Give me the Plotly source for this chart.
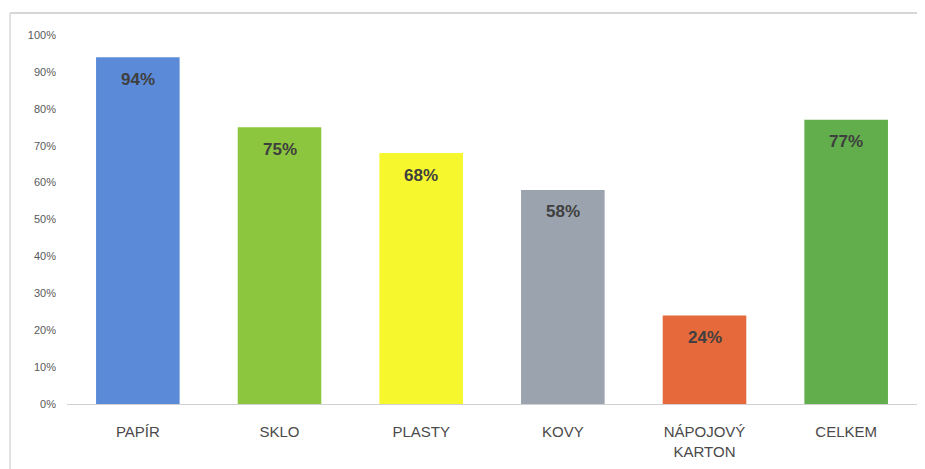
import plotly.graph_objects as go

categories = ["PAPÍR", "SKLO", "PLASTY", "KOVY", "NÁPOJOVÝ<br>KARTON", "CELKEM"]
values = [0.94, 0.75, 0.68, 0.58, 0.24, 0.77]
colors = ["#5B8BD8", "#8CC63E", "#F7F72E", "#9BA3AE", "#E5693A", "#62AD4C"]
labels = ["94%", "75%", "68%", "58%", "24%", "77%"]
y_ticks = [0, 0.1, 0.2, 0.3, 0.4, 0.5, 0.6, 0.7, 0.8, 0.9, 1.0]
y_ticktext = ["0%", "10%", "20%", "30%", "40%", "50%", "60%", "70%", "80%", "90%", "100%"]

fig = go.Figure()
fig.add_trace(go.Bar(
    x=categories, y=values,
    marker=dict(color=colors, line=dict(width=0)),
    hoverinfo="skip",
))

for c, v, t in zip(categories, values, labels):
    fig.add_annotation(x=c, y=v, text=f"<b>{t}</b>", showarrow=False,
                       yanchor="middle", yshift=-22,
                       font=dict(family="Liberation Sans, Arial", size=17, color="#3F3F3F"))

fig.update_layout(
    width=917, height=461,
    margin=dict(l=59, r=8, t=27, b=65),
    paper_bgcolor="white", plot_bgcolor="white",
    bargap=0.41,
    showlegend=False,
    xaxis=dict(showgrid=False, showline=True, linecolor="#D0D0D0", linewidth=1,
               ticks="", ticklabelstandoff=14,
               tickfont=dict(family="Liberation Sans, Arial", size=15, color="#4A4A4A")),
    yaxis=dict(range=[0, 1.0], tickvals=y_ticks, ticktext=y_ticktext, showgrid=False,
               zeroline=False, showline=False, ticks="", ticklabelstandoff=10,
               tickfont=dict(family="Liberation Sans, Arial", size=11, color="#595959")),
    shapes=[
        dict(type="line", xref="paper", yref="paper", x0=-0.067, x1=1.0035, y0=1.0596, y1=1.0596,
             line=dict(color="#C8C8C8", width=1.5)),
        dict(type="line", xref="paper", yref="paper", x0=-0.067, x1=-0.067, y0=1.0596, y1=-0.18,
             line=dict(color="#D8D8D8", width=1.5)),
        dict(type="line", xref="paper", yref="paper", x0=1.0035, x1=1.0035, y0=1.0596, y1=-0.18,
             line=dict(color="#E6E6E6", width=1)),
    ],
)

fig.write_html("out.html")
